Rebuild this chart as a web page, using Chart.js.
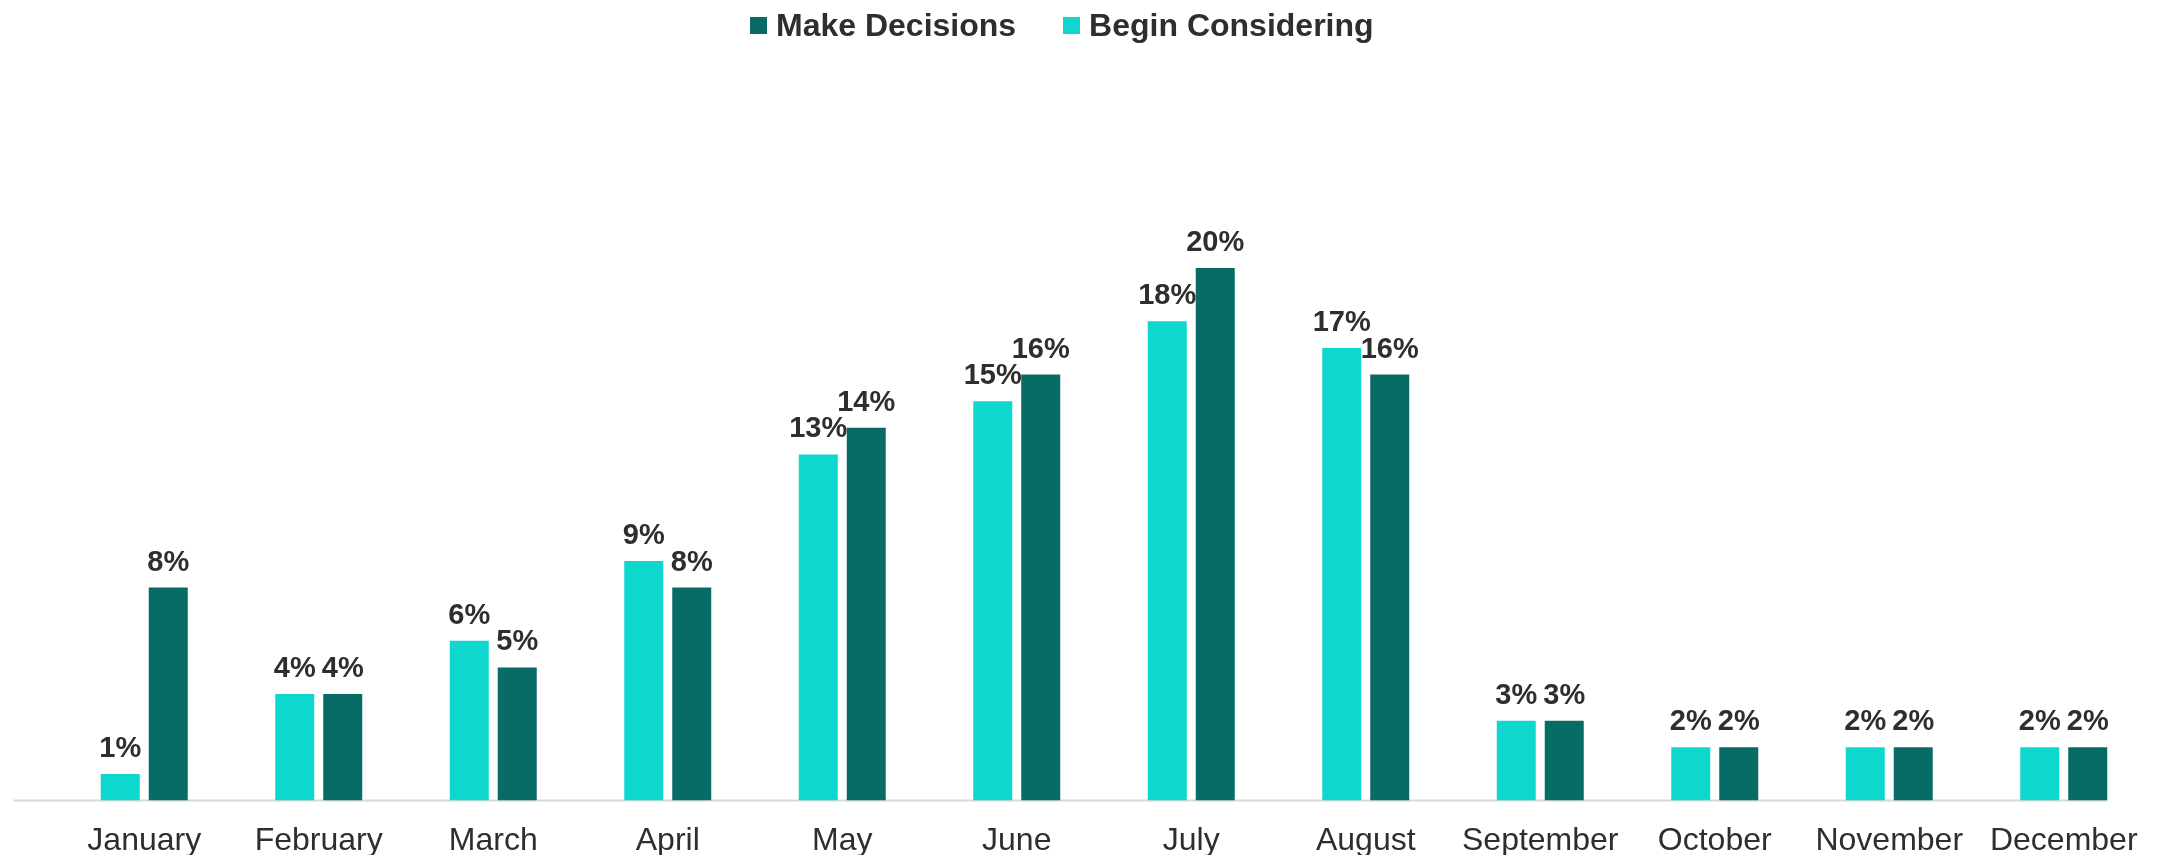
<!DOCTYPE html>
<html>
<head>
<meta charset="utf-8">
<script src="https://cdn.jsdelivr.net/npm/chart.js@4.4.1/dist/chart.umd.min.js"></script>
<style>
  html, body {
    margin: 0;
    padding: 0;
    background: #ffffff;
    overflow: hidden;
  }
  #wrap {
    position: relative;
    width: 2157px;
    height: 855px;
    overflow: hidden;
  }
  #plot {
    position: absolute;
    left: 0;
    top: 0;
    width: 2157px;
    height: 873px;
  }
  #legend {
    position: absolute;
    left: 750px;
    top: 6px;
    height: 38px;
    display: flex;
    align-items: center;
    font-family: "Liberation Sans", Arial, sans-serif;
    font-weight: bold;
    font-size: 32px;
    color: #2e2e2e;
  }
  #legend .item {
    display: flex;
    align-items: center;
    margin-right: 47px;
  }
  #legend .box {
    width: 17px;
    height: 17px;
    margin-right: 9px;
  }
</style>
</head>
<body>
<div id="wrap">
  <div id="plot"><canvas id="monthChart"></canvas></div>
  <div id="legend"></div>
</div>
<script>
const months = ['January', 'February', 'March', 'April', 'May', 'June', 'July', 'August', 'September', 'October', 'November', 'December'];
const beginConsidering = [1, 4, 6, 9, 13, 15, 18, 17, 3, 2, 2, 2];
const makeDecisions = [8, 4, 5, 8, 14, 16, 20, 16, 3, 2, 2, 2];

const palette = {
  cyan: '#0ED7CD',
  teal: '#076B66',
  textColor: '#2e2e2e',
  axisColor: '#d9d9d9',
};
const fontFamily = '"Liberation Sans", Arial, sans-serif';

// value labels above each bar
const barValueLabels = {
  id: 'barValueLabels',
  afterDatasetsDraw(chart) {
    const { ctx } = chart;
    ctx.save();
    ctx.font = `bold 29px ${fontFamily}`;
    ctx.fillStyle = palette.textColor;
    ctx.textAlign = 'center';
    ctx.textBaseline = 'alphabetic';
    chart.data.datasets.forEach((dataset, datasetIndex) => {
      const meta = chart.getDatasetMeta(datasetIndex);
      meta.data.forEach((bar, index) => {
        ctx.fillText(`${dataset.data[index]}%`, bar.x, bar.y - 17);
      });
    });
    ctx.restore();
  },
};

// category axis line: starts left of the first group, stops at the last bar
const baseLine = {
  id: 'baseLine',
  beforeDatasetsDraw(chart) {
    const { ctx } = chart;
    const xScale = chart.scales.x;
    const yZero = chart.scales.y.getPixelForValue(0);
    const step = xScale.width / chart.data.labels.length;
    const lastMeta = chart.getDatasetMeta(chart.data.datasets.length - 1);
    const lastBar = lastMeta.data[lastMeta.data.length - 1];
    ctx.save();
    ctx.strokeStyle = palette.axisColor;
    ctx.lineWidth = 2;
    ctx.beginPath();
    ctx.moveTo(xScale.getPixelForValue(0) - step * 0.75, yZero);
    ctx.lineTo(lastBar.x + lastBar.width / 2, yZero);
    ctx.stroke();
    ctx.restore();
  },
};

const canvas = document.getElementById('monthChart');
const chart = new Chart(canvas.getContext('2d'), {
  type: 'bar',
  data: {
    labels: months,
    datasets: [
      {
        label: 'Begin Considering',
        data: beginConsidering,
        backgroundColor: palette.cyan,
        categoryPercentage: 0.55,
        barPercentage: 0.8125,
      },
      {
        label: 'Make Decisions',
        data: makeDecisions,
        backgroundColor: palette.teal,
        categoryPercentage: 0.55,
        barPercentage: 0.8125,
      },
    ],
  },
  options: {
    responsive: true,
    maintainAspectRatio: false,
    animation: false,
    layout: {
      padding: {
        top: 55,
        left: 57,
        right: 6,
        bottom: 0,
      },
    },
    plugins: {
      legend: { display: false },
      tooltip: { enabled: false },
    },
    scales: {
      x: {
        grid: { display: false },
        border: { display: false },
        ticks: {
          color: palette.textColor,
          autoSkip: false,
          maxRotation: 0,
          padding: 13,
          font: { family: fontFamily, size: 32 },
        },
      },
      y: {
        display: false,
        min: 0,
        max: 28,
      },
    },
  },
  plugins: [baseLine, barValueLabels],
});

// legend: shown in the reverse order of the datasets
const legendEl = document.getElementById('legend');
chart.data.datasets.slice().reverse().forEach((dataset) => {
  const item = document.createElement('div');
  item.className = 'item';
  const box = document.createElement('span');
  box.className = 'box';
  box.style.background = dataset.backgroundColor;
  const text = document.createElement('span');
  text.textContent = dataset.label;
  item.appendChild(box);
  item.appendChild(text);
  legendEl.appendChild(item);
});
</script>
</body>
</html>
